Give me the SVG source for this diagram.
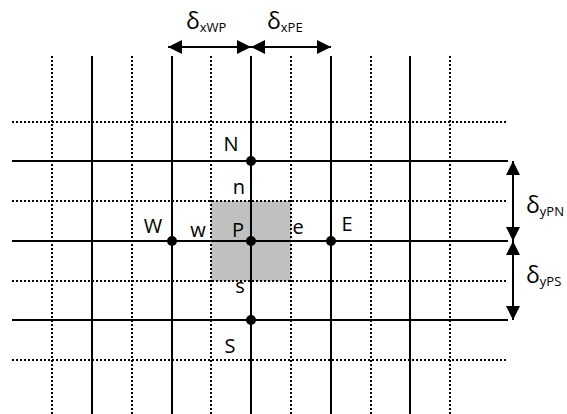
<svg xmlns="http://www.w3.org/2000/svg" width="567" height="414" viewBox="0 0 567 414">
<style>
.s{stroke:#000;stroke-width:2;fill:none}
.d{stroke:#000;stroke-width:2;stroke-dasharray:2 2;fill:none}
.t{font-family:"Open Sans","Liberation Sans",sans-serif;font-size:20px;fill:#000;text-anchor:middle}
.dl{font-family:"Open Sans","Liberation Sans",sans-serif;font-size:23px;fill:#000}
.sub{font-size:13px}
.pt{fill:#000}
</style>
<defs>
<marker id="ah" viewBox="0 0 14 14" refX="14" refY="7" markerWidth="14" markerHeight="14" markerUnits="userSpaceOnUse" orient="auto-start-reverse">
<path d="M0,0 L14,7 L0,14 Z" fill="#000"/>
</marker>
</defs>
<rect width="567" height="414" fill="#fff"/>
<g id="cell">
<rect x="211" y="201" width="80" height="80" fill="#c0c0c0"/>
</g>
<g id="grid">
<g class="d">
<line x1="52" y1="56" x2="52" y2="414"/>
<line x1="132" y1="56" x2="132" y2="414"/>
<line x1="211" y1="56" x2="211" y2="414"/>
<line x1="291" y1="56" x2="291" y2="414"/>
<line x1="371" y1="56" x2="371" y2="414"/>
<line x1="450" y1="56" x2="450" y2="414"/>
<line x1="12" y1="122" x2="508" y2="122"/>
<line x1="12" y1="201" x2="508" y2="201"/>
<line x1="12" y1="281" x2="508" y2="281"/>
<line x1="12" y1="360" x2="508" y2="360"/>
</g>
<g class="s">
<line x1="92" y1="56" x2="92" y2="414"/>
<line x1="172" y1="56" x2="172" y2="414"/>
<line x1="251" y1="56" x2="251" y2="414"/>
<line x1="331" y1="56" x2="331" y2="414"/>
<line x1="410" y1="56" x2="410" y2="414"/>
<line x1="12" y1="161" x2="508" y2="161"/>
<line x1="12" y1="241" x2="508" y2="241"/>
<line x1="12" y1="320" x2="508" y2="320"/>
</g>
</g>
<g id="node-N"><circle class="pt" cx="251" cy="161" r="5"/><text class="t" x="231" y="151">N</text></g>
<g id="node-W"><circle class="pt" cx="172" cy="241" r="5"/><text class="t" x="153" y="233">W</text></g>
<g id="node-P"><circle class="pt" cx="251" cy="241" r="5"/><text class="t" x="238" y="237">P</text></g>
<g id="node-E"><circle class="pt" cx="331" cy="241" r="5"/><text class="t" x="347" y="231">E</text></g>
<g id="node-S"><circle class="pt" cx="251" cy="320" r="5"/><text class="t" x="230" y="353">S</text></g>
<g id="faces">
<text class="t" x="239" y="194">n</text>
<text class="t" x="198" y="237">w</text>
<text class="t" x="298" y="234">e</text>
<text class="t" x="240" y="293">s</text>
</g>
<g id="connectors" class="s">
<line x1="251" y1="47" x2="168" y2="47" marker-end="url(#ah)"/>
<line x1="251" y1="47" x2="331" y2="47" marker-end="url(#ah)"/>
<line x1="513" y1="241" x2="513" y2="161" marker-end="url(#ah)"/>
<line x1="513" y1="241" x2="513" y2="320" marker-end="url(#ah)"/>
<path d="M251,47 L237,40 L237,54 Z M251,47 L265,40 L265,54 Z M513,241 L506,227 L520,227 Z M513,241 L506,255 L520,255 Z" fill="#000" stroke="none"/>
</g>
<g id="dim-labels">
<text class="dl" x="186" y="29">δ<tspan class="sub" dy="3">xWP</tspan></text>
<text class="dl" x="267" y="29">δ<tspan class="sub" dy="3">xPE</tspan></text>
<text class="dl" x="526" y="213">δ<tspan class="sub" dy="3">yPN</tspan></text>
<text class="dl" x="526" y="283">δ<tspan class="sub" dy="3">yPS</tspan></text>
</g>
</svg>
